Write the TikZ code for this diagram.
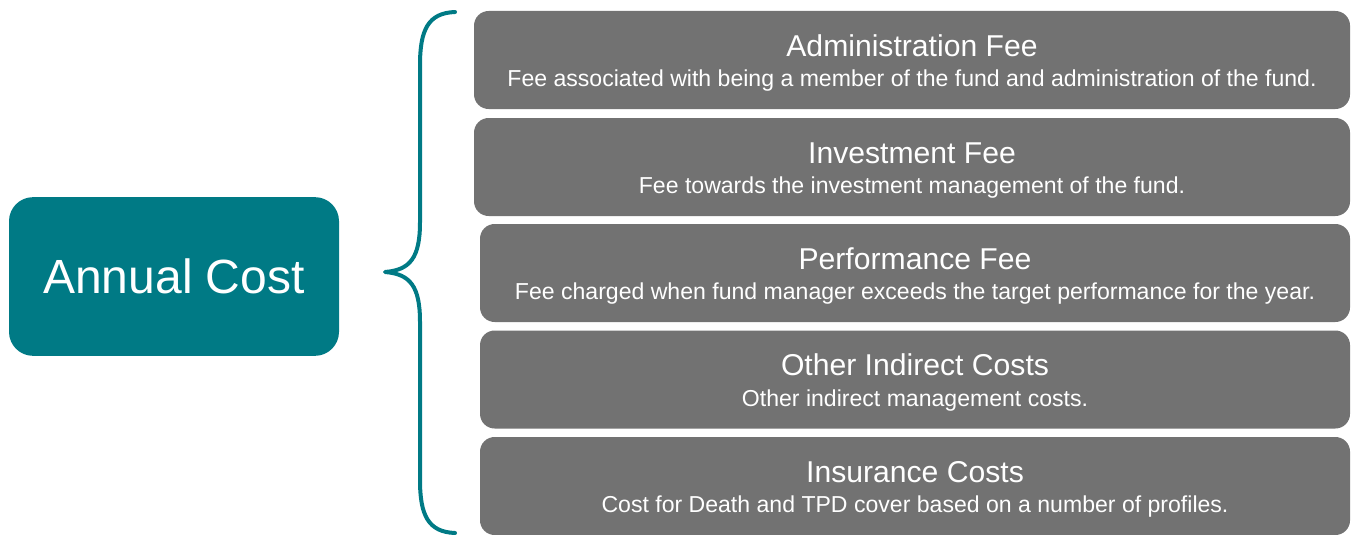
\documentclass[tikz,border=0pt]{standalone}
\usepackage{fontspec}
\setmainfont{Liberation Sans}
\usepackage{tikz}
\usetikzlibrary{positioning}

\definecolor{tealc}{HTML}{007A85}
\definecolor{grayc}{HTML}{727272}

\tikzset{
	fee/.style={rectangle, rounded corners=11pt, fill=grayc, text=white, align=center, minimum height=73.5pt, inner sep=0pt, font=\fontsize{17.3}{23}\selectfont},
}

\newcommand{\feetext}[2]{{\fontsize{22.6}{23}\selectfont\rule{0pt}{21pt}#1}\\#2}

\begin{document}
\begin{tikzpicture}[x=0.75pt,y=-0.75pt]
				\useasboundingbox (0,0) rectangle (1352,535);
				\node[rectangle, rounded corners=18pt, fill=tealc, text=white, minimum width=247.5pt, minimum height=119pt, font=\fontsize{36}{40}\selectfont] (A) at (174,276.5) {Annual Cost};
				
				\node[fee, minimum width=657pt] (B) at (912,60) {\feetext{Administration Fee}{Fee associated with being a member of the fund and administration of the fund.}};
				\node[fee, minimum width=657pt] (C) at (912,167) {\feetext{Investment Fee}{Fee towards the investment management of the fund.}};
				\node[fee, minimum width=652.5pt] (D) at (915,273) {\feetext{Performance Fee}{Fee charged when fund manager exceeds the target performance for the year.}};
				\node[fee, minimum width=652.5pt] (E) at (915,379.5) {\feetext{Other Indirect Costs}{Other indirect management costs.}};
				\node[fee, minimum width=652.5pt] (F) at (915,486) {\feetext{Insurance Costs}{Cost for Death and TPD cover based on a number of profiles.}};
				
				% brace
				\draw[tealc, line width=3pt, line join=round, line cap=round] (455,12) .. controls (428,13) and (420,30) .. (420,65) -- (420,222) .. controls (420,258) and (410,270) .. (385,272) .. controls (410,274) and (420,286) .. (420,322) -- (420,480) .. controls (420,515) and (428,532) .. (455,533);
			\end{tikzpicture}
\end{document}
